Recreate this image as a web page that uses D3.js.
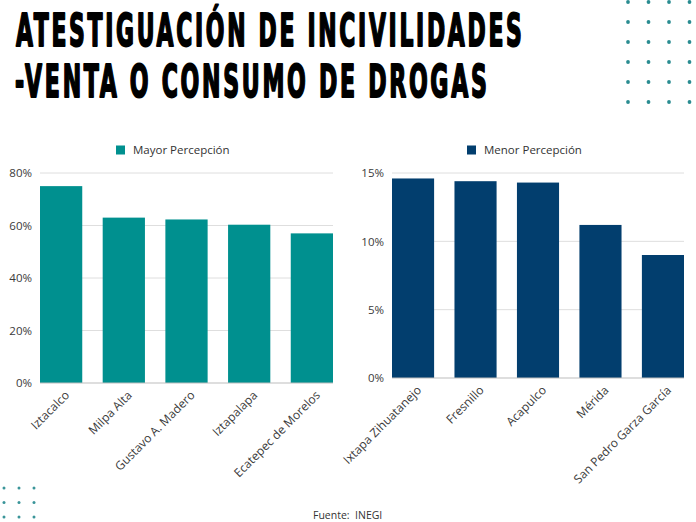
<!DOCTYPE html>
<html><head><meta charset="utf-8">
<script src="https://cdn.jsdelivr.net/npm/d3@7"></script>
<style>html,body{margin:0;padding:0;background:#fff;}svg{display:block;}</style>
</head><body>
<script>
const titleLines = ["ATESTIGUACIÓN DE INCIVILIDADES", "-VENTA O CONSUMO DE DROGAS"];
const mayorCats = ["Iztacalco", "Milpa Alta", "Gustavo A. Madero", "Iztapalapa", "Ecatepec de Morelos"];
const mayorVals = [75.0, 63.0, 62.3, 60.3, 57.0];
const mayorTicks = [0, 20, 40, 60, 80];
const menorCats = ["Ixtapa Zihuatanejo", "Fresnillo", "Acapulco", "Mérida", "San Pedro Garza García"];
const menorVals = [14.6, 14.4, 14.3, 11.2, 9.0];
const menorTicks = [0, 5, 10, 15];
const source = "Fuente:  INEGI";

const W = 696, H = 522;
const svg = d3.select("body").append("svg").attr("width", W).attr("height", H);
svg.append("rect").attr("width", W).attr("height", H).attr("fill", "#fff");

// Title: condensed heavy look via horizontal scaling
const tl = [{x: 16, y: 46, w: 506}, {x: 15, y: 97, w: 472}];
titleLines.forEach((t, i) => {
  const txt = svg.append("text").attr("x", 0).attr("y", 0)
    .attr("font-family", "DejaVu Sans Condensed, DejaVu Sans, sans-serif")
    .attr("font-weight", "bold").attr("font-size", 45)
    .attr("letter-spacing", 5)
    .attr("fill", "#000").attr("stroke", "#000").attr("stroke-width", 2).attr("stroke-linejoin", "round")
    .text(t);
  const bb = txt.node().getBBox();
  const sx = tl[i].w / (bb.width - 5);
  txt.attr("transform", `translate(${tl[i].x - bb.x * sx},${tl[i].y}) scale(${sx},1)`);
});

// decorative dots
const dotCols = [628, 648.5, 669, 689.5], dotRows = [2, 22, 42, 62, 82, 102];
dotRows.forEach(y => dotCols.forEach(x => svg.append("circle").attr("cx", x).attr("cy", y).attr("r", 1.9).attr("fill", "#2a8c91")));
const dotCols2 = [4, 19, 34], dotRows2 = [488, 502.5, 517];
dotRows2.forEach(y => dotCols2.forEach(x => svg.append("circle").attr("cx", x).attr("cy", y).attr("r", 1.5).attr("fill", "#3a9599")));

const FONT = "Open Sans, Lato, sans-serif";

function chart(cfg) {
  const x = d3.scaleBand().domain(cfg.cats).range([cfg.x0, cfg.x1]).paddingInner(0.326).paddingOuter(0);
  const y = d3.scaleLinear().domain([0, cfg.max]).range([cfg.y0, cfg.y1]);
  const g = svg.append("g");
  g.selectAll("line.grid").data(cfg.ticks.filter(d => d > 0)).join("line")
    .attr("x1", cfg.x0).attr("x2", cfg.x1).attr("y1", d => y(d)).attr("y2", d => y(d))
    .attr("stroke", "#dedede").attr("stroke-width", 1);
  const ya = g.append("g").attr("transform", `translate(${cfg.x0 - 8},0)`)
    .call(d3.axisLeft(y).tickValues(cfg.ticks).tickSize(0).tickPadding(0).tickFormat(d => d + "%"));
  ya.select(".domain").remove();
  ya.selectAll("text").attr("font-family", FONT).attr("font-size", 11.5).attr("fill", "#3a3a3a");
  g.selectAll("rect.bar").data(cfg.vals).join("rect")
    .attr("x", (d, i) => x(cfg.cats[i])).attr("width", x.bandwidth())
    .attr("y", d => y(d)).attr("height", d => y(0) - y(d)).attr("fill", cfg.color);
  g.append("line").attr("x1", cfg.x0).attr("x2", cfg.x1).attr("y1", y(0)).attr("y2", y(0))
    .attr("stroke", "#bdbdbd").attr("stroke-width", 1);
  g.selectAll("text.xl").data(cfg.cats).join("text")
    .attr("transform", d => `translate(${x(d) + x.bandwidth() / 2 + 9},${y(0) + 13}) rotate(-45)`)
    .attr("text-anchor", "end").attr("font-family", FONT).attr("font-size", 12).attr("fill", "#3a3a3a")
    .text(d => d);
  g.append("rect").attr("x", cfg.lx).attr("y", 145.5).attr("width", 9).attr("height", 9).attr("fill", cfg.color);
  g.append("text").attr("x", cfg.lx + 17).attr("y", 153.5).attr("font-family", FONT).attr("font-size", 11.5)
    .attr("fill", "#333").text(cfg.label);
}

chart({cats: mayorCats, vals: mayorVals, ticks: mayorTicks, max: 80, x0: 40, x1: 333, y0: 383, y1: 173,
  color: "#00908f", lx: 116, label: "Mayor Percepción"});
chart({cats: menorCats, vals: menorVals, ticks: menorTicks, max: 15, x0: 392, x1: 684, y0: 378, y1: 173,
  color: "#023e6e", lx: 467, label: "Menor Percepción"});

svg.append("text").attr("x", 313).attr("y", 519).attr("font-family", FONT).attr("font-size", 10.5)
  .attr("fill", "#333").attr("xml:space", "preserve").style("white-space", "pre").text(source);
</script>
</body></html>
